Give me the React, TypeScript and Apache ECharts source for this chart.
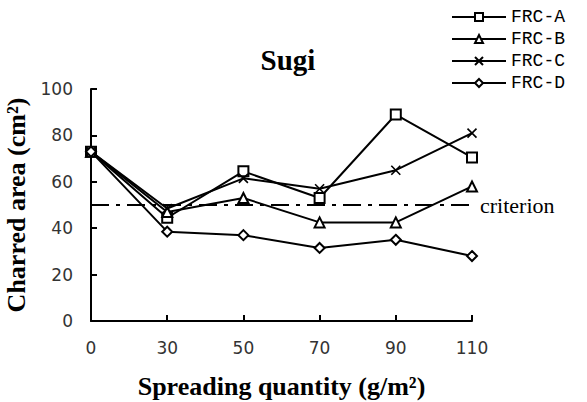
import React, { useEffect, useRef } from "react";
import * as echarts from "echarts";

const categories = ["0", "30", "50", "70", "90", "110"];
const frcA = [73, 44.5, 64.5, 53, 89, 70.5];
const frcB = [73, 47, 53, 42.5, 42.5, 58];
const frcC = [73, 48.5, 61.5, 57, 65, 81];
const frcD = [73, 38.5, 37, 31.5, 35, 28];
const criterion = 50;
const seriesNames = ["FRC-A", "FRC-B", "FRC-C", "FRC-D"];

const serif = "'Liberation Serif', 'Times New Roman', serif";

export default function App() {
  const ref = useRef<HTMLDivElement>(null);
  useEffect(() => {
    if (!ref.current) return;
    const chart = echarts.init(ref.current, undefined, { renderer: "svg" });
    const mk = (name: string, data: number[], symbol: string, size: number) => ({
      name,
      type: "line",
      data,
      symbol,
      symbolSize: size,
      showSymbol: true,
      lineStyle: { color: "#000", width: 2 },
      itemStyle: { color: "#000", borderColor: "#000", borderWidth: 1.6 },
      emphasis: { disabled: true },
      z: 3,
    });
    chart.setOption({
      animation: false,
      backgroundColor: "#fff",
      title: {
        text: "Sugi",
        left: 283,
        textAlign: "center",
        top: 40,
        textStyle: { fontFamily: serif, fontWeight: "bold", fontSize: 29, color: "#000" },
      },
      legend: {
        data: seriesNames,
        orient: "vertical",
        left: 446,
        top: 3,
        itemWidth: 54,
        itemHeight: 10,
        itemGap: 4,
        textStyle: { fontFamily: "'Liberation Mono', monospace", fontSize: 18, color: "#000", lineHeight: 17 },
      },
      grid: { left: 91, right: 115, top: 89, bottom: 81, outerBoundsMode: "none", containLabel: false },
      xAxis: {
        type: "category",
        data: categories,
        boundaryGap: false,
        name: "Spreading quantity (g/m²)",
        nameLocation: "middle",
        nameGap: 52,
        nameTextStyle: { fontFamily: serif, fontWeight: "bold", fontSize: 26, color: "#000" },
        axisLine: { lineStyle: { color: "#000", width: 2 } },
        axisTick: { inside: true, length: 6, lineStyle: { color: "#000", width: 2 } },
        axisLabel: { fontFamily: "'DejaVu Sans', sans-serif", fontSize: 17, color: "#333", margin: 18 },
        splitLine: { show: false },
      },
      yAxis: {
        type: "value",
        min: 0,
        max: 100,
        interval: 20,
        name: "Charred area (cm²)",
        nameLocation: "middle",
        nameGap: 60,
        nameTextStyle: { fontFamily: serif, fontWeight: "bold", fontSize: 26, color: "#000" },
        axisLine: { show: true, lineStyle: { color: "#000", width: 2 } },
        axisTick: { show: true, inside: true, length: 6, lineStyle: { color: "#000", width: 2 } },
        axisLabel: { fontFamily: "'DejaVu Sans', sans-serif", fontSize: 17, color: "#333", margin: 18 },
        splitLine: { show: false },
      },
      series: [
        mk("FRC-A", frcA, "emptyRect", 10),
        mk("FRC-B", frcB, "emptyTriangle", 10),
        mk("FRC-C", frcC, "path://M0,0L10,10M10,0L0,10", 9),
        mk("FRC-D", frcD, "emptyDiamond", 10),
        {
          name: "criterion",
          type: "line",
          data: [],
          markLine: {
            silent: true,
            symbol: "none",
            data: [{ yAxis: criterion }],
            lineStyle: { color: "#000", width: 2, type: [18, 7, 4, 7] },
            label: {
              position: "end",
              formatter: "criterion",
              distance: 8,
              fontFamily: serif,
              fontSize: 22,
              color: "#000",
            },
            emphasis: { disabled: true },
          },
        },
      ],
    });
    return () => chart.dispose();
  }, []);
  return <div ref={ref} style={{ position: "fixed", left: 0, top: 0, width: 587, height: 402 }} />;
}
